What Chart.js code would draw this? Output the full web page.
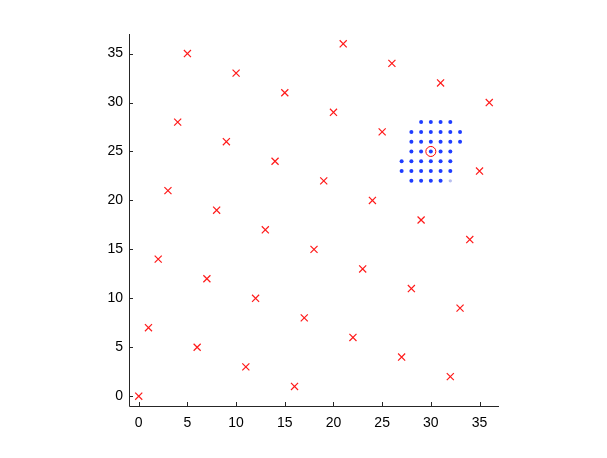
<!DOCTYPE html>
<html>
<head>
<meta charset="utf-8">
<script src="https://cdn.jsdelivr.net/npm/chart.js@4.4.0/dist/chart.umd.min.js"></script>
<style>
  html, body { margin: 0; padding: 0; background: #fff; }
  #wrap { width: 607px; height: 458px; }
</style>
</head>
<body>
<div id="wrap"><canvas id="c" width="607" height="458"></canvas></div>
<script>
// lattice points (red x)
const latticeX = [0, 1, 2, 3, 4, 5, 6, 7, 8, 9, 10, 11, 12, 13, 14, 15, 16, 17, 18,
                  19, 20, 21, 22, 23, 24, 25, 26, 27, 28, 29, 31, 32, 33, 34, 35, 36];
const latticeY = [0, 7, 14, 21, 28, 35, 5, 12, 19, 26, 33, 3, 10, 17, 24, 31, 1, 8, 15,
                  22, 29, 36, 6, 13, 20, 27, 34, 4, 11, 18, 32, 2, 9, 16, 23, 30];

// neighbourhood grid (blue dots)
const gridX = [29, 30, 31, 32,
               28, 29, 30, 31, 32, 33,
               28, 29, 30, 31, 32, 33,
               28, 29, 30, 31, 32,
               27, 28, 29, 30, 31, 32,
               27, 28, 29, 30, 31, 32,
               28, 29, 30, 31];
const gridY = [28, 28, 28, 28,
               27, 27, 27, 27, 27, 27,
               26, 26, 26, 26, 26, 26,
               25, 25, 25, 25, 25,
               24, 24, 24, 24, 24, 24,
               23, 23, 23, 23, 23, 23,
               22, 22, 22, 22];
const faintX = [32];
const faintY = [22];

// highlighted point (red circle)
const targetX = [30];
const targetY = [25];

const tickValues = [0, 5, 10, 15, 20, 25, 30, 35];

const toPoints = (xs, ys) => xs.map((x, i) => ({ x: x, y: ys[i] }));

const axisColor = '#262626';

const inwardTicks = {
  id: 'inwardTicks',
  afterDraw(chart) {
    const ctx = chart.ctx;
    const xs = chart.scales.x, ys = chart.scales.y;
    const a = chart.chartArea;
    ctx.save();
    ctx.strokeStyle = axisColor;
    ctx.lineWidth = 1;
    ctx.beginPath();
    ctx.moveTo(a.left + 0.5, a.top);
    ctx.lineTo(a.left + 0.5, a.bottom + 0.5);
    ctx.lineTo(a.right, a.bottom + 0.5);
    tickValues.forEach(v => {
      const px = Math.round(xs.getPixelForValue(v)) + 0.5;
      ctx.moveTo(px, a.bottom);
      ctx.lineTo(px, a.bottom - 4);
      const py = Math.round(ys.getPixelForValue(v)) + 0.5;
      ctx.moveTo(a.left, py);
      ctx.lineTo(a.left + 4, py);
    });
    ctx.stroke();
    ctx.restore();
  }
};

const font = { family: 'Liberation Sans, Arial, sans-serif', size: 14 };

new Chart(document.getElementById('c'), {
  type: 'scatter',
  data: {
    datasets: [
      {
        data: toPoints(targetX, targetY),
        pointStyle: 'circle',
        pointRadius: 5,
        pointBorderColor: '#ff0000',
        pointBackgroundColor: 'rgba(0,0,0,0)',
        pointBorderWidth: 1
      },
      {
        data: toPoints(gridX, gridY),
        pointStyle: 'circle',
        pointRadius: 2,
        pointBorderWidth: 0,
        pointBackgroundColor: '#1f3dff'
      },
      {
        data: toPoints(faintX, faintY),
        pointStyle: 'circle',
        pointRadius: 1.7,
        pointBorderWidth: 0,
        pointBackgroundColor: '#b8bff0'
      },
      {
        data: toPoints(latticeX, latticeY),
        pointStyle: 'crossRot',
        pointRadius: 5,
        pointBorderColor: '#ff1a1a',
        pointBorderWidth: 1.2
      }
    ]
  },
  options: {
    responsive: false,
    animation: false,
    layout: { padding: { top: 34, right: 108, left: 0, bottom: 0 } },
    plugins: { legend: { display: false }, tooltip: { enabled: false } },
    scales: {
      x: {
        type: 'linear',
        min: -1,
        max: 37,
        afterBuildTicks: s => { s.ticks = tickValues.map(v => ({ value: v })); },
        afterFit: s => { s.height = 52; },
        grid: { display: false, drawTicks: false },
        border: { display: false },
        ticks: { color: '#000', font: font, padding: 9, maxRotation: 0 }
      },
      y: {
        type: 'linear',
        min: -1,
        max: 37,
        afterBuildTicks: s => { s.ticks = tickValues.map(v => ({ value: v })); },
        afterFit: s => { s.width = 129; },
        grid: { display: false, drawTicks: false },
        border: { display: false },
        ticks: { color: '#000', font: font, padding: 6 }
      }
    }
  },
  plugins: [inwardTicks]
});
</script>
</body>
</html>
